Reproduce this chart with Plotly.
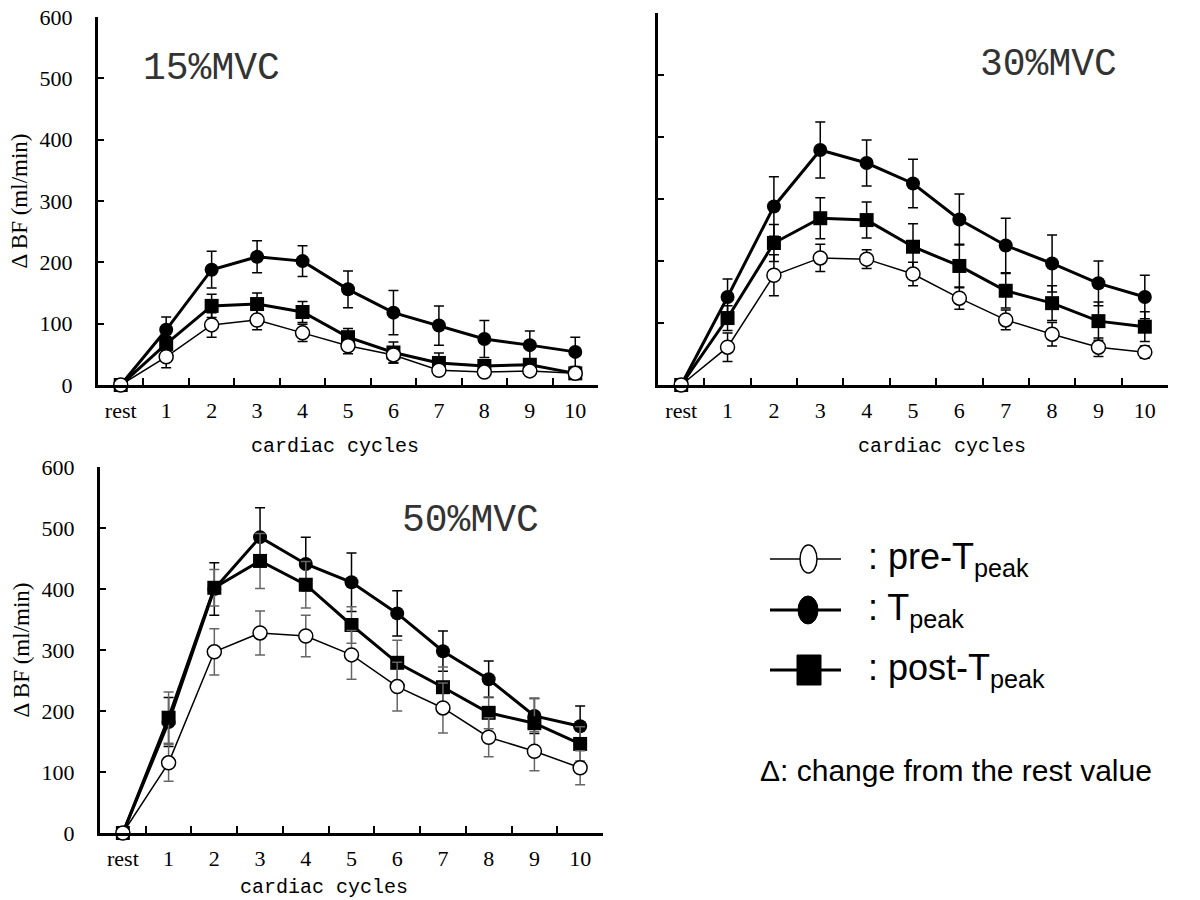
import plotly.graph_objects as go

cycles = ["rest", "1", "2", "3", "4", "5", "6", "7", "8", "9", "10"]

# 15%MVC
pre15 = [0, 46, 98, 106, 85, 64, 49, 24, 21, 23, 19]
pre15_err = [0, 18, 20, 16, 14, 13, 13, 8, 6, 8, 6]
peak15 = [0, 90, 188, 209, 202, 156, 118, 97, 75, 65, 54]
peak15_err = [0, 21, 30, 26, 25, 30, 36, 32, 30, 23, 24]
post15 = [0, 67, 129, 132, 119, 78, 53, 36, 31, 33, 19]
post15_err = [0, 12, 19, 18, 17, 14, 17, 16, 10, 10, 5]

# 30%MVC
pre30 = [0, 61, 177, 205, 203, 179, 140, 105, 82, 61, 53]
pre30_err = [0, 23, 33, 22, 15, 19, 18, 16, 19, 15, 10]
peak30 = [0, 142, 288, 379, 358, 325, 267, 225, 196, 164, 142]
peak30_err = [0, 29, 48, 45, 37, 39, 41, 44, 46, 36, 35]
post30 = [0, 108, 229, 269, 266, 223, 192, 152, 132, 103, 94]
post30_err = [0, 20, 30, 33, 29, 37, 35, 28, 28, 31, 24]

# 50%MVC
pre50 = [0, 115, 297, 328, 323, 292, 240, 205, 157, 134, 107]
pre50_err = [0, 30, 38, 36, 34, 40, 40, 41, 32, 32, 28]
peak50 = [0, 182, 400, 485, 441, 411, 360, 298, 252, 192, 175]
peak50_err = [0, 40, 43, 48, 44, 48, 37, 33, 30, 29, 33]
post50 = [0, 189, 402, 446, 407, 341, 279, 239, 197, 180, 146]
post50_err = [0, 42, 30, 45, 38, 30, 37, 33, 26, 40, 28]

panels = [
    ("15%MVC", pre15, pre15_err, peak15, peak15_err, post15, post15_err),
    ("30%MVC", pre30, pre30_err, peak30, peak30_err, post30, post30_err),
    ("50%MVC", pre50, pre50_err, peak50, peak50_err, post50, post50_err),
]

W, H = 1200, 900
def px(x):
    return x / W
def py(y):
    return 1 - y / H

# axis boxes in pixels: (x0, x1, ytop, ybottom)
boxes = [(98, 598, 17, 385), (658, 1168, 13, 385), (100, 603, 467, 833)]
bar_colors = [("black", "black", "black"), ("black", "black", "black"),
              ("#666666", "black", "#666666")]

fig = go.Figure()
serif = "Liberation Serif"

for i, (name, pre, pre_e, pk, pk_e, post, post_e) in enumerate(panels):
    xa = "x" if i == 0 else "x%d" % (i + 1)
    ya = "y" if i == 0 else "y%d" % (i + 1)
    cpre, cpk, cpost = bar_colors[i]
    # T peak
    fig.add_trace(go.Scatter(
        x=cycles, y=pk, xaxis=xa, yaxis=ya, mode="lines+markers",
        line=dict(color="black", width=3),
        marker=dict(symbol="circle", size=14, color="black"),
        error_y=dict(type="data", array=pk_e, color=cpk, thickness=1.5, width=5),
        cliponaxis=False, showlegend=False))
    # post T peak
    fig.add_trace(go.Scatter(
        x=cycles, y=post, xaxis=xa, yaxis=ya, mode="lines+markers",
        line=dict(color="black", width=3),
        marker=dict(symbol="square", size=14, color="black"),
        error_y=dict(type="data", array=post_e, color=cpost, thickness=1.5, width=5),
        cliponaxis=False, showlegend=False))
    # pre T peak
    fig.add_trace(go.Scatter(
        x=cycles, y=pre, xaxis=xa, yaxis=ya, mode="lines+markers",
        line=dict(color="black", width=1.5),
        marker=dict(symbol="circle", size=14, color="white",
                    line=dict(color="black", width=1.5)),
        error_y=dict(type="data", array=pre_e, color=cpre, thickness=1.5, width=5),
        cliponaxis=False, showlegend=False))

axis_common = dict(showline=True, linecolor="black", linewidth=3, ticks="inside",
                   tickcolor="black", tickwidth=2, showgrid=False, zeroline=False,
                   automargin=False,
                   tickfont=dict(family=serif, size=22, color="black"))

for i, (x0, x1, yt, yb) in enumerate(boxes):
    sfx = "" if i == 0 else str(i + 1)
    fig.layout["xaxis" + sfx] = dict(
        axis_common, domain=[px(x0), px(x1)], anchor="y" + sfx,
        type="category", categoryorder="array", categoryarray=cycles,
        range=[-0.5, 10.5], tickson="boundaries", ticklen=7,
        ticklabelstandoff=4)
    yax = dict(
        axis_common, domain=[py(yb), py(yt)], anchor="x" + sfx,
        range=[0, 600], dtick=100, ticklen=6,
        showticklabels=(i != 1), ticklabelstandoff=18)
    if i != 1:
        yax["title"] = dict(text="Δ BF (ml/min)",
                            font=dict(family=serif, size=23, color="black"), standoff=6)
    fig.layout["yaxis" + sfx] = yax

mono = "Liberation Mono"
ann = []
# panel labels
for name, cx, cy in [("15%MVC", 211, 68), ("30%MVC", 1048, 64), ("50%MVC", 470, 520)]:
    ann.append(dict(text=name, x=px(cx), y=py(cy), xref="paper", yref="paper",
                    xanchor="center", yanchor="middle", showarrow=False,
                    font=dict(family=mono, size=38, color="#333333")))
# x axis titles
for cx, cy in [(335, 447), (942, 447), (324, 887)]:
    ann.append(dict(text="cardiac cycles", x=px(cx), y=py(cy), xref="paper", yref="paper",
                    xanchor="center", yanchor="middle", showarrow=False,
                    font=dict(family=mono, size=20, color="black")))

# legend (drawn as a key in the blank corner)
sans = "Liberation Sans"
shapes = []
rows = [(559, "open", ": pre-T<sub>peak</sub>"),
        (610, "dot", ": T<sub>peak</sub>"),
        (670, "square", ": post-T<sub>peak</sub>")]
for yy, kind, label in rows:
    lw = 1.5 if kind == "open" else 3
    shapes.append(dict(type="line", xref="paper", yref="paper",
                       x0=px(770), x1=px(841), y0=py(yy), y1=py(yy),
                       line=dict(color="black", width=lw)))
    if kind == "open":
        shapes.append(dict(type="circle", xref="paper", yref="paper",
                           x0=px(800), x1=px(817), y0=py(yy + 14), y1=py(yy - 14),
                           fillcolor="white", line=dict(color="black", width=1.5)))
    elif kind == "dot":
        shapes.append(dict(type="circle", xref="paper", yref="paper",
                           x0=px(798), x1=px(818), y0=py(yy + 14), y1=py(yy - 14),
                           fillcolor="black", line=dict(color="black", width=1)))
    else:
        shapes.append(dict(type="rect", xref="paper", yref="paper",
                           x0=px(797), x1=px(821), y0=py(yy + 15), y1=py(yy - 15),
                           fillcolor="black", line=dict(color="black", width=1)))
    ann.append(dict(text=label, x=px(866), y=py(yy), xref="paper", yref="paper",
                    xanchor="left", yanchor="middle", showarrow=False,
                    font=dict(family=sans, size=36, color="black")))

ann.append(dict(text="Δ: change from the rest value", x=px(758), y=py(770),
                xref="paper", yref="paper", xanchor="left", yanchor="middle",
                showarrow=False, font=dict(family=sans, size=30, color="black")))

fig.update_layout(
    width=W, height=H, margin=dict(l=0, r=0, t=0, b=0),
    plot_bgcolor="white", paper_bgcolor="white",
    annotations=ann, shapes=shapes, showlegend=False)

fig.write_html("out.html", config={"displayModeBar": False},
               post_script="document.body.style.margin='0';")
